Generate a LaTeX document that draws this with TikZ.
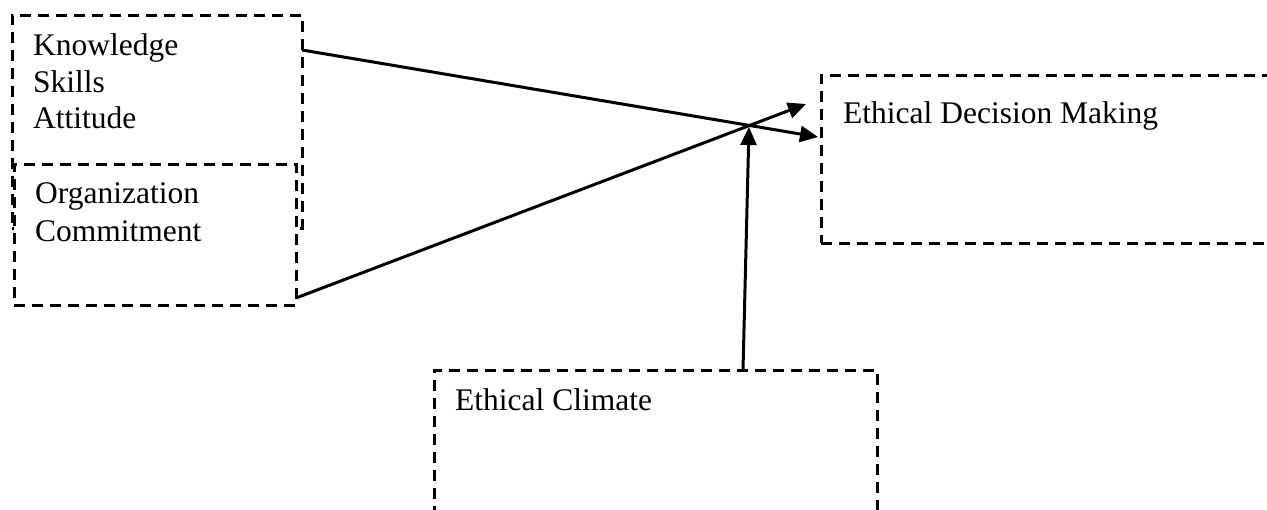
\documentclass[tikz,border=0pt]{standalone}
\usepackage{fontspec}
\setmainfont{Liberation Serif}
\usetikzlibrary{arrows.meta}
\tikzset{
  dbox/.style={draw, line width=3pt, dash pattern=on 11pt off 7pt, fill=white,
    rectangle, anchor=north west, inner sep=0pt, outer sep=0pt},
  txt/.style={anchor=base west, inner sep=0pt, font=\fontsize{31.5}{37}\selectfont},
  conn/.style={line width=3pt, -{Triangle[length=18pt,width=16pt]}}
}
\begin{document}
\begin{tikzpicture}[x=1pt,y=-1pt]
\useasboundingbox (0,0) rectangle (1267,509);
\clip (0,0) rectangle (1267,509);
% boxes
\node[dbox, minimum width=290pt, minimum height=213pt] (ksa) at (12,15) {};
\node[dbox, minimum width=282pt, minimum height=141pt] (oc) at (14,164) {};
\node[dbox, minimum width=520pt, minimum height=168pt] (edm) at (821,75) {};
\node[dbox, minimum width=443pt, minimum height=220pt] (ec) at (434,370) {};
% texts
\node[txt] (t1) at (33,55) {Knowledge};
\node[txt] (t2) at (33,92) {Skills};
\node[txt] (t3) at (33,128) {Attitude};
\node[txt] (t4) at (35,203) {Organization};
\node[txt] (t5) at (35,241) {Commitment};
\node[txt] (t6) at (843,123) {Ethical Decision Making};
\node[txt] (t7) at (455,410) {Ethical Climate};
% connector points
\coordinate (a1) at (ksa.north east |- 0,50);
\coordinate (b1) at (818,137);
\coordinate (a2) at (oc.south east |- 0,298);
\coordinate (b2) at (806,104);
\coordinate (a3) at (743,370);
\coordinate (b3) at (749,127);
\draw[conn] (a1) -- (b1);
\draw[conn] (a2) -- (b2);
\draw[conn] (a3) -- (b3);
\end{tikzpicture}
\end{document}
